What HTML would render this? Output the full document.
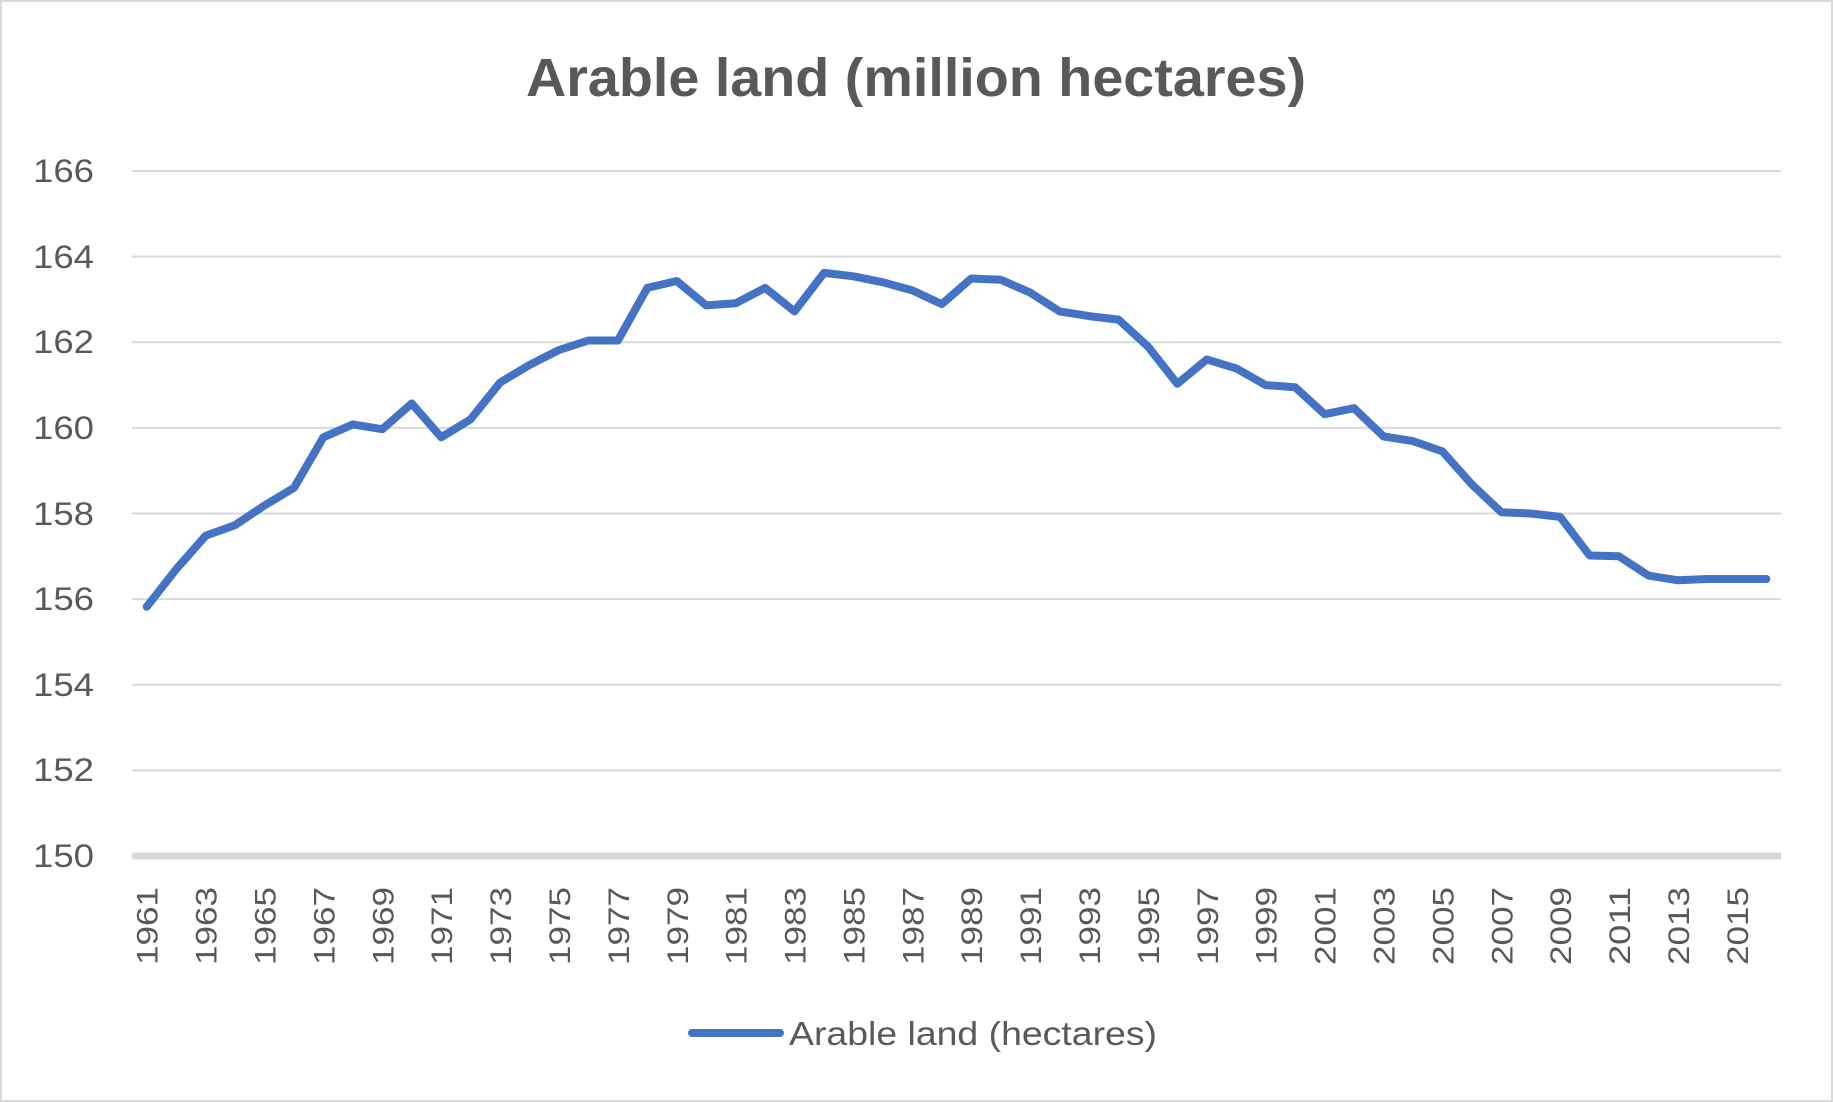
<!DOCTYPE html>
<html><head><meta charset="utf-8"><style>
html,body{margin:0;padding:0;background:#fff}
svg{display:block}
text{font-family:"Liberation Sans",sans-serif;fill:#595959}
</style></head><body>
<svg id="s" width="1833" height="1102" viewBox="0 0 1833 1102">
<rect x="1" y="1" width="1831" height="1100" fill="#fff" stroke="#d9d9d9" stroke-width="2"/>
<text x="526" y="96" font-size="54" font-weight="bold" textLength="780" lengthAdjust="spacingAndGlyphs">Arable land (million hectares)</text>
<g id="grid" stroke="#d9d9d9" stroke-width="2"></g>
<g font-size="32">
<text x="33" y="182" textLength="61" lengthAdjust="spacingAndGlyphs">166</text><text x="33" y="268" textLength="61" lengthAdjust="spacingAndGlyphs">164</text><text x="33" y="353" textLength="61" lengthAdjust="spacingAndGlyphs">162</text><text x="33" y="439" textLength="61" lengthAdjust="spacingAndGlyphs">160</text>
<text x="33" y="525" textLength="61" lengthAdjust="spacingAndGlyphs">158</text><text x="33" y="610" textLength="61" lengthAdjust="spacingAndGlyphs">156</text><text x="33" y="696" textLength="61" lengthAdjust="spacingAndGlyphs">154</text><text x="33" y="781" textLength="61" lengthAdjust="spacingAndGlyphs">152</text><text x="33" y="867" textLength="61" lengthAdjust="spacingAndGlyphs">150</text>
</g>
<g id="xl" font-size="30"></g>
<path id="ln" fill="none" stroke="#4472C4" stroke-width="8" stroke-linejoin="round" stroke-linecap="round"/>
<line x1="692" y1="1033" x2="780" y2="1033" stroke="#4472C4" stroke-width="8" stroke-linecap="round"/>
<text x="789" y="1045" font-size="33" textLength="368" lengthAdjust="spacingAndGlyphs">Arable land (hectares)</text>
</svg>
<script>
var v=[155.82,156.7,157.48,157.73,158.19,158.6,159.78,160.08,159.97,160.57,159.78,160.2,161.06,161.47,161.82,162.04,162.04,163.27,163.43,162.86,162.91,163.27,162.72,163.62,163.54,163.4,163.21,162.89,163.49,163.46,163.16,162.72,162.61,162.53,161.9,161.03,161.6,161.39,161.0,160.95,160.32,160.46,159.8,159.69,159.45,158.68,158.03,158.0,157.92,157.02,157.0,156.55,156.44,156.47,156.47,156.47];
function Y(t){return 171+(166-t)*(856-171)/16}
function X(i){return 132+(1781-132)/56*(i+0.5)}
var g=document.getElementById('grid'),h='';
for(var k=0;k<8;k++){var y=Y(166-2*k);h+='<line x1="132" x2="1781" y1="'+y+'" y2="'+y+'"/>'}
h+='<line x1="132" x2="1781" y1="856" y2="856" stroke-width="7"/>';
g.innerHTML=h;
var d='';for(var i=0;i<v.length;i++)d+=(i?'L':'M')+X(i).toFixed(1)+' '+Y(v[i]).toFixed(1);
document.getElementById('ln').setAttribute('d',d);
var xl=document.getElementById('xl'),s='';
for(var i=0;i<56;i+=2){var x=X(i)+11;s+='<text transform="translate('+x+',965) rotate(-90)" textLength="78" lengthAdjust="spacingAndGlyphs">'+(1961+i)+'</text>'}
xl.innerHTML=s;
</script>
</body></html>
